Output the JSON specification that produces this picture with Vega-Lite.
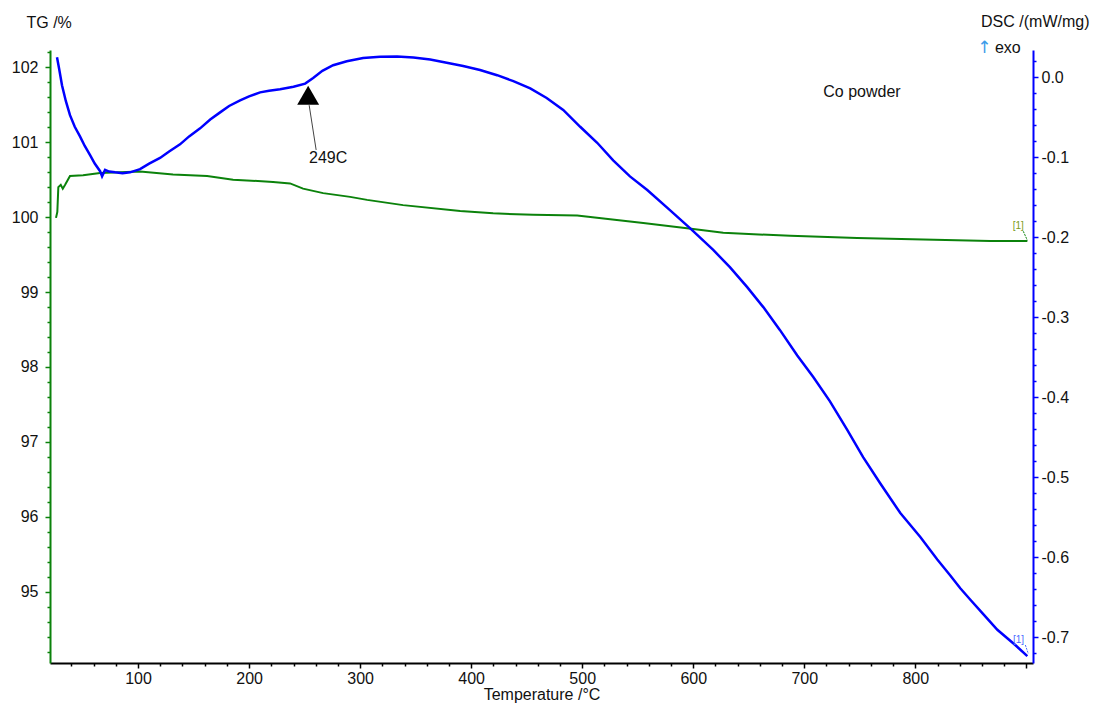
{
  "$schema": "https://vega.github.io/schema/vega-lite/v6.json",
  "width": 983,
  "height": 613,
  "autosize": "none",
  "padding": {"left": 50, "top": 50, "right": 63, "bottom": 41},
  "background": "white",
  "config": {
    "view": {"stroke": null},
    "font": "Liberation Sans",
    "text": {"font": "Liberation Sans"},
    "axis": {
      "labelFont": "Liberation Sans",
      "titleFont": "Liberation Sans",
      "labelFontSize": 16,
      "titleFontSize": 16,
      "titleFontWeight": "normal",
      "grid": false,
      "labelColor": "#111111",
      "titleColor": "#111111",
      "labelOverlap": false,
      "labelBound": false,
      "labelFlush": false,
      "domainWidth": 2,
      "tickWidth": 1.5
    }
  },
  "datasets": {
    "tg": [
      {"T": 26.1, "v": 99.99}, {"T": 27.3, "v": 100.07}, {"T": 28.2, "v": 100.40}, {"T": 30.4, "v": 100.43},
      {"T": 32.2, "v": 100.38}, {"T": 34.2, "v": 100.43}, {"T": 38.7, "v": 100.55}, {"T": 50.5, "v": 100.56},
      {"T": 65.8, "v": 100.59}, {"T": 101.8, "v": 100.61}, {"T": 131.5, "v": 100.57}, {"T": 162.2, "v": 100.55},
      {"T": 185.6, "v": 100.50}, {"T": 221.6, "v": 100.47}, {"T": 236.9, "v": 100.45}, {"T": 248.6, "v": 100.38},
      {"T": 266.7, "v": 100.32}, {"T": 291.0, "v": 100.27}, {"T": 306.3, "v": 100.23}, {"T": 338.7, "v": 100.16},
      {"T": 390.1, "v": 100.08}, {"T": 419.8, "v": 100.05}, {"T": 455.9, "v": 100.03}, {"T": 495.5, "v": 100.02},
      {"T": 525.2, "v": 99.97}, {"T": 555.0, "v": 99.92}, {"T": 600.0, "v": 99.84}, {"T": 627.0, "v": 99.79},
      {"T": 687.4, "v": 99.75}, {"T": 747.7, "v": 99.72}, {"T": 807.2, "v": 99.70}, {"T": 867.6, "v": 99.68},
      {"T": 900.9, "v": 99.68}
    ],
    "dsc": [
      {"T": 27.0, "v": 0.025}, {"T": 29.0, "v": 0.010}, {"T": 31.5, "v": -0.010}, {"T": 35.0, "v": -0.030},
      {"T": 38.7, "v": -0.0475}, {"T": 43.0, "v": -0.062}, {"T": 47.7, "v": -0.074}, {"T": 52.0, "v": -0.086},
      {"T": 56.8, "v": -0.0975}, {"T": 61.0, "v": -0.108}, {"T": 65.8, "v": -0.1175}, {"T": 67.6, "v": -0.124},
      {"T": 70.3, "v": -0.116}, {"T": 74.0, "v": -0.118}, {"T": 79.3, "v": -0.119}, {"T": 86.0, "v": -0.120},
      {"T": 92.8, "v": -0.119}, {"T": 101.8, "v": -0.115}, {"T": 110.0, "v": -0.108}, {"T": 119.8, "v": -0.101},
      {"T": 128.0, "v": -0.093}, {"T": 137.8, "v": -0.084}, {"T": 146.0, "v": -0.074}, {"T": 155.9, "v": -0.064},
      {"T": 165.0, "v": -0.053}, {"T": 173.9, "v": -0.044}, {"T": 182.0, "v": -0.036}, {"T": 191.9, "v": -0.029},
      {"T": 200.0, "v": -0.024}, {"T": 209.9, "v": -0.019}, {"T": 218.0, "v": -0.017}, {"T": 227.9, "v": -0.015},
      {"T": 240.0, "v": -0.012}, {"T": 250.5, "v": -0.008}, {"T": 257.7, "v": -0.001}, {"T": 266.0, "v": 0.008},
      {"T": 275.7, "v": 0.015}, {"T": 288.0, "v": 0.020}, {"T": 302.7, "v": 0.024}, {"T": 318.0, "v": 0.0255},
      {"T": 333.3, "v": 0.026}, {"T": 348.0, "v": 0.0245}, {"T": 363.1, "v": 0.022}, {"T": 378.0, "v": 0.018},
      {"T": 392.8, "v": 0.014}, {"T": 408.0, "v": 0.009}, {"T": 423.4, "v": 0.0025}, {"T": 438.0, "v": -0.005},
      {"T": 453.2, "v": -0.014}, {"T": 468.0, "v": -0.026}, {"T": 482.9, "v": -0.041}, {"T": 498.2, "v": -0.062},
      {"T": 513.5, "v": -0.082}, {"T": 527.9, "v": -0.104}, {"T": 543.0, "v": -0.124}, {"T": 558.6, "v": -0.141},
      {"T": 578.0, "v": -0.165}, {"T": 597.3, "v": -0.189}, {"T": 618.0, "v": -0.216}, {"T": 633.0, "v": -0.2375},
      {"T": 648.6, "v": -0.2625}, {"T": 663.1, "v": -0.2875}, {"T": 678.0, "v": -0.316}, {"T": 693.7, "v": -0.348},
      {"T": 708.1, "v": -0.375}, {"T": 723.0, "v": -0.405}, {"T": 738.7, "v": -0.441}, {"T": 753.0, "v": -0.475},
      {"T": 768.5, "v": -0.508}, {"T": 786.5, "v": -0.545}, {"T": 804.5, "v": -0.575}, {"T": 819.8, "v": -0.603},
      {"T": 831.5, "v": -0.623}, {"T": 840.5, "v": -0.639}, {"T": 850.0, "v": -0.654}, {"T": 861.0, "v": -0.671},
      {"T": 873.9, "v": -0.691}, {"T": 890.0, "v": -0.710}, {"T": 900.9, "v": -0.724}
    ]
  },
  "encoding": {
    "x": {
      "field": "T",
      "type": "quantitative",
      "scale": {"domain": [20.7, 906], "nice": false, "zero": false},
      "axis": {
        "title": "Temperature /°C",
        "values": [40,60,80,100,120,140,160,180,200,220,240,260,280,300,320,340,360,380,400,420,440,460,480,500,520,540,560,580,600,620,640,660,680,700,720,740,760,780,800,820,840,860,880,900],
        "labelExpr": "datum.value % 100 === 0 && datum.value < 900 ? format(datum.value, 'd') : ''",
        "tickSize": {"condition": {"test": "datum.value % 100 === 0", "value": 5}, "value": 3},
        "domainColor": "#000000",
        "tickColor": "#000000",
        "labelPadding": 2,
        "titlePadding": 0
      }
    }
  },
  "layer": [
    {
      "data": {"name": "tg"},
      "mark": {"type": "line", "color": "#0b820b", "strokeWidth": 2},
      "encoding": {
        "y": {
          "field": "v",
          "type": "quantitative",
          "scale": {"domain": [94.05, 102.23], "nice": false, "zero": false},
          "axis": {
            "orient": "left",
            "title": "TG /%",
            "titleAngle": 0,
            "titleAlign": "left",
            "titleBaseline": "middle",
            "titleX": -24,
            "titleY": -28,
            "values": [94.2,94.4,94.6,94.8,95,95.2,95.4,95.6,95.8,96,96.2,96.4,96.6,96.8,97,97.2,97.4,97.6,97.8,98,98.2,98.4,98.6,98.8,99,99.2,99.4,99.6,99.8,100,100.2,100.4,100.6,100.8,101,101.2,101.4,101.6,101.8,102,102.2],
            "labelExpr": "abs(datum.value - round(datum.value)) < 0.01 ? format(datum.value, 'd') : ''",
            "tickSize": {"condition": {"test": "abs(datum.value - round(datum.value)) < 0.01", "value": 5}, "value": 3},
            "domainColor": "#0b820b",
            "tickColor": "#0b820b",
            "labelPadding": 7
          }
        }
      }
    },
    {
      "data": {"name": "dsc"},
      "mark": {"type": "line", "color": "#0000ff", "strokeWidth": 2.5},
      "encoding": {
        "y": {
          "field": "v",
          "type": "quantitative",
          "scale": {"domain": [-0.7325, 0.034], "nice": false, "zero": false},
          "axis": {
            "orient": "right",
            "title": "DSC /(mW/mg)",
            "titleAngle": 0,
            "titleAlign": "right",
            "titleBaseline": "middle",
            "titleX": 56,
            "titleY": -29,
            "values": [-0.72,-0.7,-0.68,-0.66,-0.64,-0.62,-0.6,-0.58,-0.56,-0.54,-0.52,-0.5,-0.48,-0.46,-0.44,-0.42,-0.4,-0.38,-0.36,-0.34,-0.32,-0.3,-0.28,-0.26,-0.24,-0.22,-0.2,-0.18,-0.16,-0.14,-0.12,-0.1,-0.08,-0.06,-0.04,-0.02,0,0.02],
            "labelExpr": "abs(datum.value * 10 - round(datum.value * 10)) < 0.001 ? replace(format(datum.value, '.1f'), '\u2212', '-') : ''",
            "tickSize": {"condition": {"test": "abs(datum.value * 10 - round(datum.value * 10)) < 0.001", "value": 5}, "value": 3},
            "domainColor": "#0000ff",
            "tickColor": "#0000ff",
            "labelPadding": 3
          }
        }
      }
    },
    {
      "data": {"values": [
        {"T": 752, "v": -0.019, "label": "Co powder"},
        {"T": 271.2, "v": -0.101, "label": "249C"},
        {"T": 883.3, "v": 0.0366, "label": "exo"}
      ]},
      "mark": {"type": "text", "fontSize": 16, "color": "#111111", "align": "center", "baseline": "middle"},
      "encoding": {
        "y": {"field": "v", "type": "quantitative", "scale": {"domain": [-0.7325, 0.034], "nice": false, "zero": false}, "axis": null},
        "text": {"field": "label"}
      }
    },
    {
      "data": {"values": [{"T": 862.2, "v": 0.0366, "label": "↑"}]},
      "mark": {"type": "text", "font": "DejaVu Sans", "fontSize": 17, "color": "#3d9be9", "align": "center", "baseline": "middle"},
      "encoding": {
        "y": {"field": "v", "type": "quantitative", "scale": {"domain": [-0.7325, 0.034], "nice": false, "zero": false}, "axis": null},
        "text": {"field": "label"}
      }
    },
    {
      "data": {"values": [{"T": 893, "v": -0.704, "label": "[1]"}]},
      "mark": {"type": "text", "fontSize": 10, "color": "#4b6cff", "align": "center", "baseline": "middle"},
      "encoding": {
        "y": {"field": "v", "type": "quantitative", "scale": {"domain": [-0.7325, 0.034], "nice": false, "zero": false}, "axis": null},
        "text": {"field": "label"}
      }
    },
    {
      "data": {"values": [{"T": 899.1, "v": -0.710, "T2": 901.8, "v2": -0.721}]},
      "mark": {"type": "rule", "color": "#4b6cff", "strokeWidth": 1, "strokeDash": [2, 1]},
      "encoding": {
        "y": {"field": "v", "type": "quantitative", "scale": {"domain": [-0.7325, 0.034], "nice": false, "zero": false}, "axis": null},
        "x2": {"field": "T2"},
        "y2": {"field": "v2"}
      }
    },
    {
      "data": {"values": [{"T": 892.8, "v": 99.884, "label": "[1]"}]},
      "mark": {"type": "text", "fontSize": 10, "color": "#7a9a20", "align": "center", "baseline": "middle"},
      "encoding": {
        "y": {"field": "v", "type": "quantitative", "scale": {"domain": [94.05, 102.23], "nice": false, "zero": false}, "axis": null},
        "text": {"field": "label"}
      }
    },
    {
      "data": {"values": [{"T": 897.3, "v": 99.81, "T2": 900.9, "v2": 99.69}]},
      "mark": {"type": "rule", "color": "#0b820b", "strokeWidth": 1, "strokeDash": [2, 1]},
      "encoding": {
        "y": {"field": "v", "type": "quantitative", "scale": {"domain": [94.05, 102.23], "nice": false, "zero": false}, "axis": null},
        "x2": {"field": "T2"},
        "y2": {"field": "v2"}
      }
    },
    {
      "data": {"values": [{"T": 254.1, "v": -0.035, "T2": 260.4, "v2": -0.091}]},
      "mark": {"type": "rule", "color": "#444444", "strokeWidth": 1},
      "encoding": {
        "y": {"field": "v", "type": "quantitative", "scale": {"domain": [-0.7325, 0.034], "nice": false, "zero": false}, "axis": null},
        "x2": {"field": "T2"},
        "y2": {"field": "v2"}
      }
    },
    {
      "data": {"values": [{"T": 253.2, "v": -0.0225}]},
      "mark": {"type": "point", "shape": "triangle-up", "filled": true, "color": "#000000", "opacity": 1, "size": 480},
      "encoding": {
        "y": {"field": "v", "type": "quantitative", "scale": {"domain": [-0.7325, 0.034], "nice": false, "zero": false}, "axis": null}
      }
    }
  ],
  "resolve": {"scale": {"y": "independent"}}
}
